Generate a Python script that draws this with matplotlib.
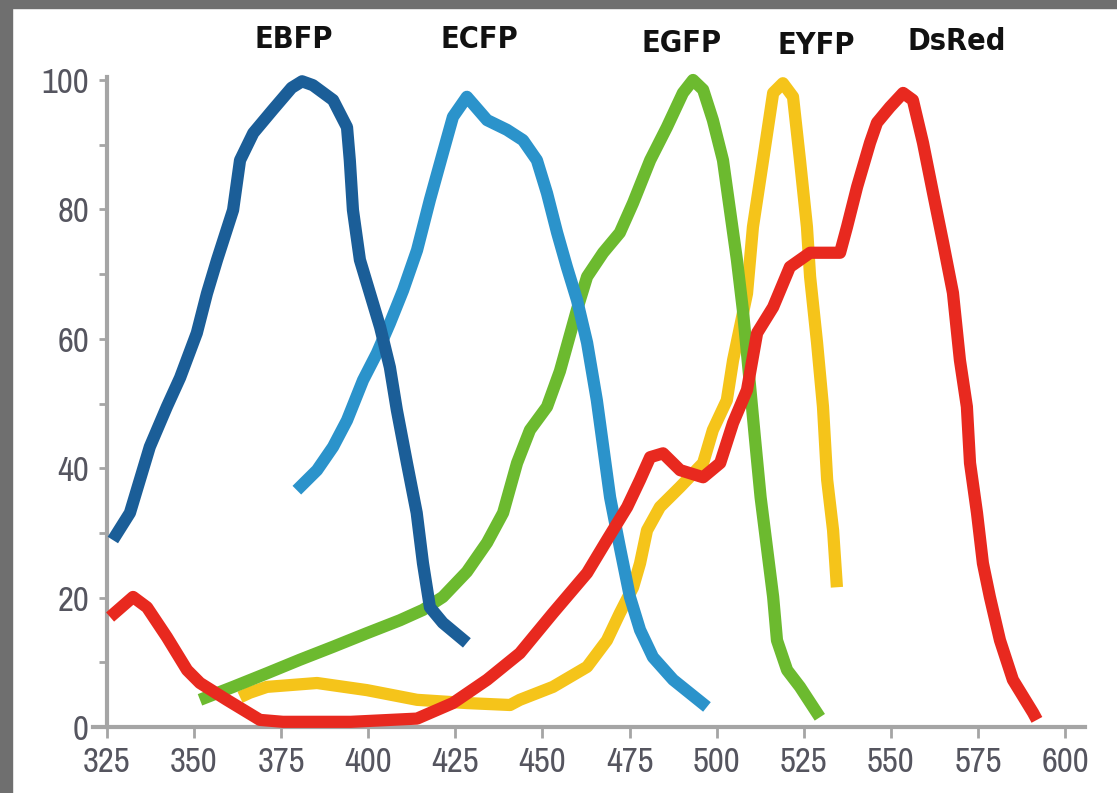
import matplotlib
matplotlib.use("Agg")
import matplotlib.pyplot as plt
from matplotlib.patches import Rectangle

# ---------------- data ----------------
names = ["EBFP", "ECFP", "EGFP", "EYFP", "DsRed"]

ebfp_x = [326.7, 331.6, 337.3, 342.2, 346.0, 350.8, 353.7, 356.6, 361.2, 363.2, 367.0, 372.6,
          378.0, 381.0, 384.1, 389.9, 393.9, 394.7, 395.6, 397.6, 400.5, 403.4, 406.2, 408.2,
          411.1, 413.9, 415.7, 417.7, 421.4, 428.3]
ebfp_y = [28.9, 33.1, 43.3, 49.5, 54.0, 60.9, 67.0, 72.2, 79.9, 87.6, 91.8, 95.4,
          98.8, 99.8, 99.2, 96.9, 92.7, 87.6, 79.9, 72.2, 67.0, 61.8, 55.6, 49.0,
          40.8, 33.1, 25.3, 18.5, 16.1, 13.0]

ecfp_x = [379.5, 385.3, 389.9, 393.9, 398.5, 402.5, 406.2, 410.0, 414.0, 417.7, 421.4, 424.3,
          428.3, 434.1, 439.8, 444.4, 448.4, 451.3, 454.2, 457.0, 459.9, 462.8, 465.6,
          469.4, 472.2, 475.1, 478.0, 481.7, 487.5, 497.2]
ecfp_y = [36.6, 39.7, 43.3, 47.4, 53.6, 57.8, 62.4, 67.5, 73.7, 81.5, 88.7, 94.3,
          97.4, 93.8, 92.3, 90.7, 87.6, 82.5, 76.4, 71.1, 66.0, 59.4, 50.5,
          35.5, 27.8, 20.1, 15.0, 10.8, 7.3, 3.1]

egfp_x = [351.7, 361.2, 370.9, 380.4, 389.9, 399.6, 409.1, 415.7, 421.4, 428.3, 434.1, 438.7,
          442.7, 446.4, 451.3, 455.0, 459.9, 462.8, 467.4, 472.2, 476.0, 480.9, 485.7,
          490.3, 493.2, 496.1, 498.9, 501.8, 503.8, 505.8, 507.5, 509.0, 511.0, 512.6,
          514.4, 516.2, 517.3, 520.2, 523.9, 529.6]
egfp_y = [4.2, 6.2, 8.3, 10.4, 12.4, 14.5, 16.5, 18.1, 20.1, 24.0, 28.5, 33.1,
          40.8, 45.9, 49.5, 55.0, 64.5, 69.6, 73.3, 76.4, 81.0, 87.6, 92.7,
          98.0, 100.0, 98.5, 93.8, 87.6, 79.9, 72.2, 64.5, 56.0, 44.5, 35.5,
          27.8, 20.1, 13.4, 8.8, 6.2, 1.5]

eyfp_x = [363.2, 366.0, 370.9, 385.3, 399.6, 414.0, 428.3, 440.7, 443.5, 453.0, 462.8, 468.5,
          472.2, 476.0, 478.0, 480.0, 483.7, 489.5, 496.1, 498.9, 502.9, 504.7, 508.7,
          510.4, 513.3, 516.2, 519.0, 521.9, 523.9, 525.9, 526.8, 528.8, 530.5, 531.7,
          533.4, 534.5]
eyfp_y = [4.6, 5.3, 6.2, 6.8, 5.7, 4.2, 3.7, 3.4, 4.2, 6.2, 9.3, 13.4,
          17.6, 21.6, 25.3, 30.4, 34.0, 37.1, 40.8, 45.9, 50.5, 56.7, 67.0,
          77.3, 87.6, 98.0, 99.5, 97.4, 87.6, 77.3, 69.6, 59.4, 49.5, 38.2,
          30.4, 21.6]

dsred_x = [325.9, 332.5, 336.5, 342.2, 348.0, 351.7, 359.4, 368.9, 375.5, 395.0, 414.0, 424.3,
           434.1, 443.5, 453.0, 462.8, 468.5, 474.3, 478.0, 480.9, 484.6, 489.5, 496.1,
           501.0, 504.7, 508.7, 511.6, 516.2, 521.0, 526.8, 535.4, 537.4, 540.3, 544.0,
           546.0, 549.7, 553.5, 556.3, 559.2, 562.1, 565.0, 567.8, 569.8, 571.8, 572.7,
           574.7, 576.4, 578.4, 581.3, 585.0, 590.8, 591.9]
dsred_y = [17.0, 20.1, 18.5, 13.9, 8.8, 6.8, 4.2, 1.1, 0.8, 0.8, 1.3, 3.7,
           7.3, 11.4, 17.6, 23.8, 28.9, 34.0, 38.2, 41.7, 42.3, 39.7, 38.6,
           40.8, 47.0, 52.1, 60.9, 64.9, 71.1, 73.3, 73.3, 77.3, 83.5, 90.3,
           93.4, 95.8, 98.0, 96.9, 90.3, 82.5, 74.8, 67.1, 56.7, 49.5, 40.8,
           33.1, 25.3, 20.1, 13.4, 7.3, 2.2, 1.1]

x_ticks = [325, 350, 375, 400, 425, 450, 475, 500, 525, 550, 575, 600]
y_ticks = [0, 20, 40, 60, 80, 100]

# ---------------- style ----------------
colors = {"EBFP": "#1b5e98", "ECFP": "#2b93cb", "EGFP": "#6cba2f",
          "EYFP": "#f5c41a", "DsRed": "#e8291f"}
label_pos = {"EBFP": (378.7, 106.2), "ECFP": (431.8, 106.2), "EGFP": (489.8, 105.7),
             "EYFP": (528.5, 105.4), "DsRed": (569.0, 105.9)}
series = {"EBFP": (ebfp_x, ebfp_y), "ECFP": (ecfp_x, ecfp_y), "EGFP": (egfp_x, egfp_y),
          "EYFP": (eyfp_x, eyfp_y), "DsRed": (dsred_x, dsred_y)}
draw_order = ["EYFP", "EGFP", "ECFP", "EBFP", "DsRed"]

tick_family = ["Archivo Narrow", "DejaVu Sans"]
tick_col = "#55555f"
spine_col = "#a5a5a5"

fig = plt.figure(figsize=(11.17, 7.93), dpi=100, facecolor="white")
ax = fig.add_axes([93 / 1117, 66 / 793, (1085 - 93) / 1117, (727 - 80) / 793])
ax.set_facecolor("white")

for name in draw_order:
    xs, ys = series[name]
    ax.plot(xs, ys, color=colors[name], lw=8.8, solid_joinstyle="round",
            solid_capstyle="butt", clip_on=False, zorder=3)

ax.set_xlim(321.0, 605.7)
ax.set_ylim(0, 100)

for s in ["top", "right"]:
    ax.spines[s].set_visible(False)
ax.spines["left"].set_position(("data", 325))
ax.spines["left"].set_bounds(0, 100.5)
for s in ["left", "bottom"]:
    ax.spines[s].set_color(spine_col)
    ax.spines[s].set_linewidth(3)

ax.set_xticks(x_ticks)
ax.set_xticklabels([str(v) for v in x_ticks])
ax.set_yticks(y_ticks)
ax.set_yticklabels([str(v) for v in y_ticks])
ax.set_yticks([10, 30, 50, 70, 90], minor=True)
ax.tick_params(axis="x", direction="out", length=8, width=2, color=spine_col,
               labelsize=25, labelcolor=tick_col, pad=6)
ax.tick_params(axis="y", which="both", direction="out", length=6, width=2, color=spine_col,
               labelsize=25, labelcolor=tick_col, pad=7)
for lab in ax.get_xticklabels() + ax.get_yticklabels():
    lab.set_family(tick_family)
    lab.set_fontweight("medium")

for name in names:
    px, py = label_pos[name]
    ax.text(px, py, name, ha="center", va="center", fontsize=22, fontweight="bold",
            fontstretch="condensed", color="#111111", family=["DejaVu Sans"], clip_on=False)

# grey frame strips on left and top
fig.patches.append(Rectangle((0, 0), 12 / 1117, 1, transform=fig.transFigure,
                             color="#6f6f6f", zorder=0))
fig.patches.append(Rectangle((0, 1 - 8 / 793), 1, 8 / 793, transform=fig.transFigure,
                             color="#6f6f6f", zorder=0))

fig.savefig("out.png", dpi=100, facecolor="white")
